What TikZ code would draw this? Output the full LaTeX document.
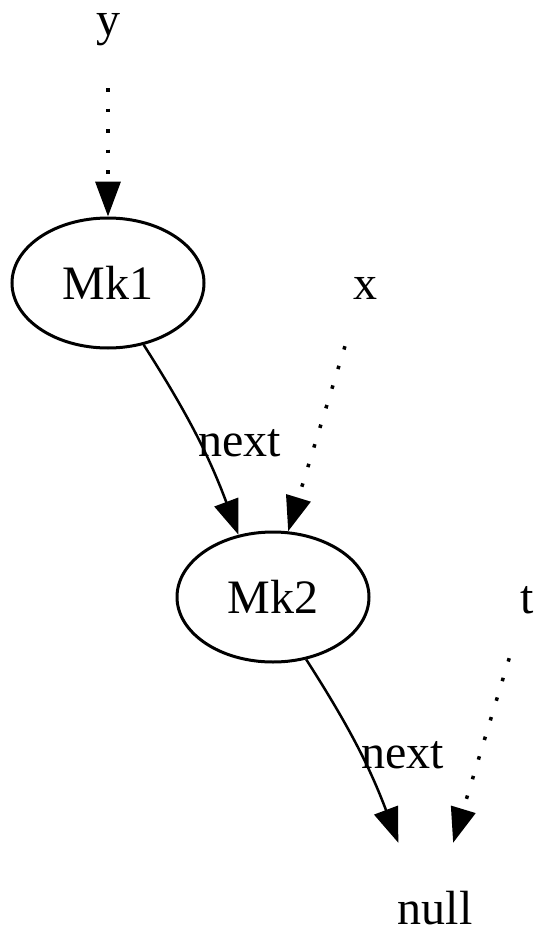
\documentclass[tikz,border=0pt]{standalone}
\usepackage{fontspec}
\setmainfont{Liberation Serif}
\usetikzlibrary{arrows.meta,shapes.geometric}
\begin{document}
\begin{tikzpicture}[x=1pt,y=-1pt, font=\fontsize{48}{58}\selectfont,
 state/.style={ellipse,draw,line width=3pt,minimum width=192pt,minimum height=130pt,inner sep=0pt},
 lbl/.style={inner sep=0pt,minimum width=60pt,minimum height=116pt},
 sink/.style={inner sep=0pt,minimum width=80pt,text height=81pt,text depth=0pt,anchor=base},
 edgelabel/.style={inner sep=0pt},
 ptr/.style={line width=3.5pt,dash pattern=on 3.5pt off 17pt,-{Triangle[length=35pt,width=25pt]}},
 nxt/.style={line width=2.5pt,-{Triangle[length=35pt,width=25pt]}}]
\useasboundingbox (0,0) rectangle (536,931);
\node[lbl] (y) at (108,30) {y};
\node[state] (mk1) at (108,283) {Mk1};
\node[lbl] (x) at (365,288) {x};
\node[state] (mk2) at (273,597) {Mk2};
\node[lbl] (t) at (527,600) {t};
\node[sink] (null) at (435,924) {null};
\node[edgelabel] (l1) at (240,443) {next};
\node[edgelabel] (l2) at (403,755) {next};
\draw[ptr] (y.south) -- (mk1.north);
\draw[nxt] (mk1.-60) to[bend left=6] (mk2.119);
\draw[ptr] (x.-109) -- (mk2.77);
\draw[nxt] (mk2.-62) to[bend left=6] (null.132);
\draw[ptr] (t.-107) -- (null.66);
\end{tikzpicture}
\end{document}
